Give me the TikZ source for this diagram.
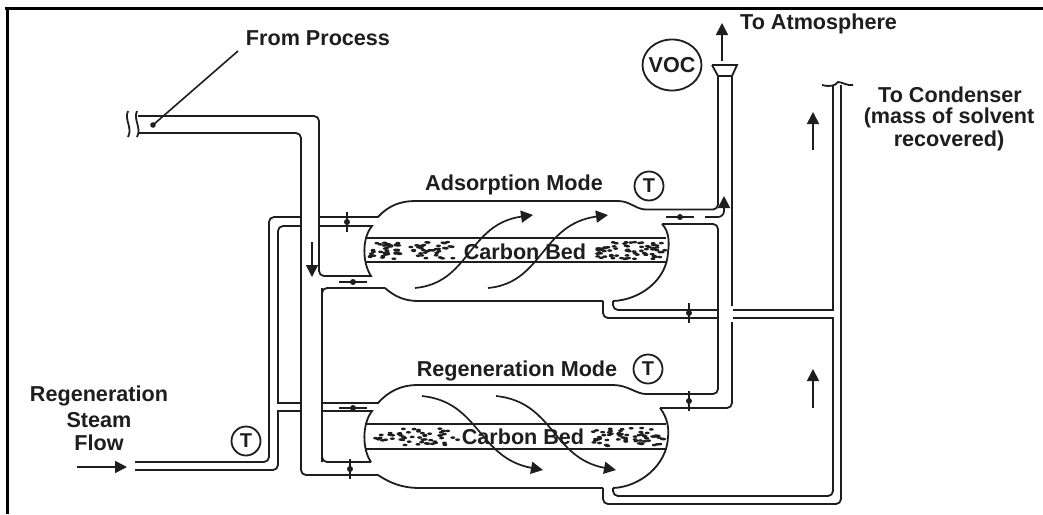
\documentclass[tikz,border=0pt]{standalone}
\usepackage{fontspec}
\setmainfont{Liberation Sans}
\usetikzlibrary{arrows.meta,shapes.geometric}
\definecolor{ink}{HTML}{1E1E1E}
\tikzset{
  pipe/.style={draw=ink,line width=1.8pt,rounded corners=5pt},
  thin pipe/.style={draw=ink,line width=1.8pt},
  flow/.style={draw=ink,line width=1.7pt,-{Triangle[length=12pt,width=12pt]}},
  valve bar/.style={draw=ink,line width=1.5pt},
  label/.style={font=\fontsize{21.6}{24}\selectfont\bfseries,text=ink,inner sep=0pt,align=center},
  tag/.style={circle,draw=ink,line width=1.8pt,minimum size=29pt,inner sep=0pt,font=\fontsize{20}{22}\selectfont\bfseries,text=ink},
}
\begin{document}
\begin{tikzpicture}[x=1pt,y=-1pt]
\useasboundingbox (0,0) rectangle (1043,514);
\fill[white] (0,0) rectangle (1043,514);
% frame
\fill[black] (5,6.5) rectangle (1043,10);
\fill[black] (5.5,6.5) rectangle (8.5,514);

% process inlet
\draw[pipe] (138,116) -- (319,116) -- (319,276) -- (368,276);
\draw[pipe] (138,133) -- (301,133) -- (301,475) -- (378,475);
\draw[thin pipe] (128,111) .. controls (124,120) and (133,128) .. (128,137);
\draw[thin pipe] (137,111) .. controls (133,120) and (142,128) .. (137,137);
\coordinate (leadA) at (238,51);
\coordinate (leadB) at (153,125);
\draw[draw=ink,line width=1.6pt] (leadA) -- (leadB);
\fill[ink] (leadB) circle (2.8pt);

% steam lines
\draw[pipe] (135,462) -- (269,462) -- (269,217) -- (301,217);
\draw[pipe] (135,470) -- (278,470) [sharp corners] -- (278,411) -- (301,411);
\draw[pipe] (301,226) -- (278,226) [sharp corners] -- (278,403) -- (301,403);

% adsorption vessel
\draw[thin pipe] (319,217) -- (378,217) .. controls (388,206) and (400,201) .. (415,201)
  -- (618,201) .. controls (630,201) and (636,209.5) .. (646,209.5);
\draw[pipe] (646,209.5) -- (718,209.5) -- (718,76);
\draw[thin pipe] (319,226) -- (372,226) .. controls (362,238) and (362,262) .. (371,276) -- (368,276);
\draw[pipe] (322,462) -- (322,288) -- (385,288);
\draw[thin pipe] (385,288) .. controls (394,296) and (404,301) .. (418,301) -- (603,301);
\draw[pipe] (603,301) -- (603,318) -- (718,318);
\draw[thin pipe] (662,224) .. controls (670,232) and (669,245) .. (668,252)
  .. controls (667,280) and (640,300) .. (613,301);
\draw[pipe] (613,301) -- (613,310) -- (718,310);
\draw[thin pipe] (365,238) -- (666,238);
\draw[thin pipe] (365,262) -- (667,262);

% regeneration vessel
\draw[thin pipe] (322,403) -- (378,403) .. controls (388,392) and (400,385) .. (418,385)
  -- (613,385) .. controls (628,385) and (636,394) .. (646,394);
\draw[thin pipe] (322,411) -- (372,411) .. controls (362,424) and (362,449) .. (371,462);
\draw[pipe] (322,288) -- (322,462) -- (371,462);
\draw[thin pipe] (378,475) .. controls (390,483) and (402,488) .. (420,488) -- (603,488);
\draw[pipe] (603,488) -- (603,504) -- (841,504) -- (841,85);
\draw[thin pipe] (660,408) .. controls (668,418) and (669,430) .. (668,437)
  .. controls (667,465) and (640,487) .. (613,488);
\draw[pipe] (613,488) -- (613,496) -- (833,496) [sharp corners] -- (833,318) -- (733,318);
\draw[thin pipe] (365,424) -- (666,424);
\draw[thin pipe] (365,449) -- (667,449);

% stack and condenser risers
\draw[pipe] (646,394) -- (718,394) -- (718,224) -- (662,224);
\draw[pipe] (660,408) -- (732,408) -- (732,322);
\draw[thin pipe] (732,306) -- (732,76);
\draw[thin pipe] (718,76) -- (732,76);
\draw[thin pipe] (712,65) -- (737,65) -- (732,76);
\draw[thin pipe] (712,65) -- (718,76);
\draw[thin pipe] (733,310) -- (833,310) -- (833,85);
\draw[thin pipe] (822,85) .. controls (830,87) and (835,86) .. (838,82) .. controls (842,82) and (847,86) .. (853,85);

% beds
\foreach \xa/\xb/\n/\s in {370/455/75/11,597/666/70/23}{
  \pgfmathsetseed{\s}
  \foreach \i in {1,...,\n}{
    \pgfmathsetmacro\px{\xa+(\xb-\xa)*rnd}
    \pgfmathsetmacro\py{242+17*rnd}
    \fill[ink] (\px,\py) ellipse (2.5pt and 1.3pt);
  }
}
\pgfmathsetseed{5}
\foreach \i in {1,...,38}{
  \pgfmathsetmacro\px{400+58*rnd}
  \pgfmathsetmacro\py{428+17*rnd}
  \fill[ink] (\px,\py) ellipse (2.5pt and 1.3pt);
}
\foreach \i in {1,...,14}{
  \pgfmathsetmacro\px{373+30*rnd}
  \pgfmathsetmacro\py{433+8*rnd}
  \fill[ink] (\px,\py) ellipse (2.5pt and 1.3pt);
}
\foreach \i in {1,...,62}{
  \pgfmathsetmacro\px{590+76*rnd}
  \pgfmathsetmacro\py{428+18*rnd}
  \fill[ink] (\px,\py) ellipse (2.5pt and 1.3pt);
}

% valves
\foreach \x/\y in {347/222,689/313,689/401,350/469}{
  \draw[valve bar] (\x,\y-10) -- (\x,\y+10);
  \fill[ink] (\x,\y) circle (3pt);
}
\foreach \x/\y in {353/282,680/217,353/408}{
  \draw[valve bar] (\x-14,\y) -- (\x+14,\y);
  \fill[ink] (\x,\y) circle (3pt);
}

% flow arrows
\draw[flow] (312,242) -- (312,277);
\draw[flow] (722,61) -- (722,23);
\draw[flow] (813,150) -- (813,112);
\draw[flow] (813,408) -- (813,369);
\draw[flow] (77,467) -- (127,467);
\draw[flow,rounded corners=6pt] (705,217) -- (724,217) -- (724,196);
\draw[flow] (415,288) .. controls (470,283) and (468,224) .. (533,215);
\draw[flow] (488,288) .. controls (543,283) and (541,224) .. (608,215);
\draw[flow] (422,396) .. controls (480,402) and (478,458) .. (543,470);
\draw[flow] (496,396) .. controls (554,402) and (552,458) .. (616,470);

% labels
\node[label] (process) at (318,38) {From Process};
\node[label,anchor=west] (atm) at (740,24) {To Atmosphere};
\node[label] (cond1) at (950,95) {To Condenser};
\node[label] (cond2) at (949,118) {(mass of solvent};
\node[label] (cond3) at (949,141) {recovered)};
\node[label] (ads) at (514,185) {Adsorption Mode};
\node[label] (reg) at (517,371) {Regeneration Mode};
\node[label] (steam1) at (99,396) {Regeneration};
\node[label] (steam2) at (99,420) {Steam};
\node[label] (steam3) at (99,443) {Flow};
\node[label] (bed1) at (525,252) {Carbon Bed};
\node[label] (bed2) at (523,437) {Carbon Bed};
\node[draw=ink,line width=1.8pt,ellipse,minimum width=59pt,minimum height=51pt,inner sep=0pt] (voc) at (672,65) {};
\node[label] (voctext) at (672,65) {VOC};
\node[tag] (t1) at (649,186) {T};
\node[tag] (t2) at (648,369) {T};
\node[tag] (t3) at (246,441) {T};
\end{tikzpicture}
\end{document}
